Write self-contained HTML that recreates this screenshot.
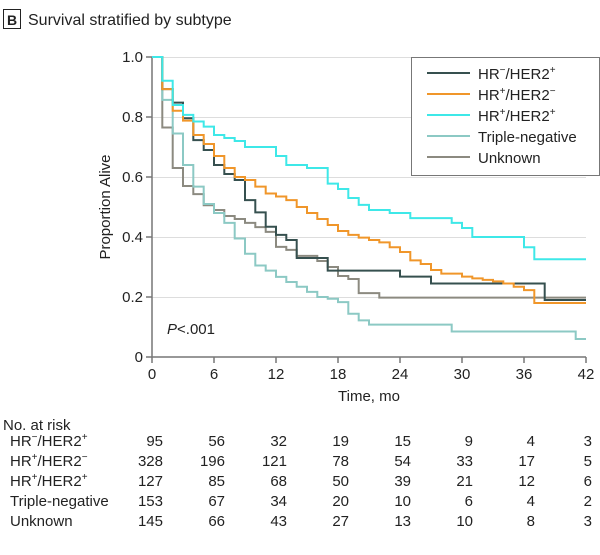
<!DOCTYPE html>
<html><head><meta charset="utf-8"><style>
body{margin:0;background:#fff;}
svg text{font-family:"Liberation Sans Narrow","Liberation Sans",sans-serif;fill:#222;}
</style></head><body>
<svg id="s" width="600" height="550" xmlns="http://www.w3.org/2000/svg">
<rect x="3.5" y="9.5" width="17" height="19" fill="none" stroke="#222" stroke-width="1"/>
<text x="12" y="25" font-size="14" font-weight="bold" text-anchor="middle">B</text>
<text x="28" y="25" font-size="16">Survival stratified by subtype</text>
<g stroke="#ddd" stroke-width="1">
<line x1="152" x2="586" y1="57.5" y2="57.5"/><line x1="152" x2="586" y1="117.5" y2="117.5"/>
<line x1="152" x2="586" y1="177.5" y2="177.5"/><line x1="152" x2="586" y1="237.5" y2="237.5"/>
<line x1="152" x2="586" y1="297.5" y2="297.5"/></g>
<g stroke="#777" stroke-width="1.5"><line x1="152" y1="57" x2="152" y2="357"/><line x1="152" y1="357" x2="586" y2="357"/>
<line x1="146" x2="152" y1="57" y2="57"/><line x1="146" x2="152" y1="117" y2="117"/><line x1="146" x2="152" y1="177" y2="177"/><line x1="146" x2="152" y1="237" y2="237"/><line x1="146" x2="152" y1="297" y2="297"/><line x1="146" x2="152" y1="357" y2="357"/>
<line x1="152" x2="152" y1="357" y2="363"/><line x1="214" x2="214" y1="357" y2="363"/><line x1="276" x2="276" y1="357" y2="363"/><line x1="338" x2="338" y1="357" y2="363"/><line x1="400" x2="400" y1="357" y2="363"/><line x1="462" x2="462" y1="357" y2="363"/><line x1="524" x2="524" y1="357" y2="363"/><line x1="586" x2="586" y1="357" y2="363"/></g>
<g font-size="15" text-anchor="end"><text x="143" y="62">1.0</text><text x="143" y="122">0.8</text><text x="143" y="182">0.6</text><text x="143" y="242">0.4</text><text x="143" y="302">0.2</text><text x="143" y="362">0</text></g>
<g font-size="15" text-anchor="middle"><text x="152" y="379">0</text><text x="214" y="379">6</text><text x="276" y="379">12</text><text x="338" y="379">18</text><text x="400" y="379">24</text><text x="462" y="379">30</text><text x="524" y="379">36</text><text x="586" y="379">42</text></g>
<text x="369" y="401" font-size="15" text-anchor="middle">Time, mo</text>
<text transform="translate(110,207) rotate(-90)" font-size="15" text-anchor="middle">Proportion Alive</text>
<text x="167" y="334" font-size="15"><tspan font-style="italic">P</tspan>&lt;.001</text>
<g id="curves" fill="none" stroke-width="2"></g>
<rect x="411.5" y="57.5" width="188" height="118" fill="#fff" stroke="#777"/>
<g stroke-width="2"><line x1="427" x2="470" y1="73" y2="73" stroke="#36504f"/><line x1="427" x2="470" y1="94" y2="94" stroke="#f0962a"/><line x1="427" x2="470" y1="115" y2="115" stroke="#3ee8e8"/><line x1="427" x2="470" y1="136" y2="136" stroke="#8cc9c4"/><line x1="427" x2="470" y1="157" y2="157" stroke="#8c8a80"/></g>
<g font-size="15"><text x="478" y="79">HR<tspan dy="-6" font-size="10">−</tspan><tspan dy="6">/HER2</tspan><tspan dy="-6" font-size="10">+</tspan></text>
<text x="478" y="100">HR<tspan dy="-6" font-size="10">+</tspan><tspan dy="6">/HER2</tspan><tspan dy="-6" font-size="10">−</tspan></text>
<text x="478" y="121">HR<tspan dy="-6" font-size="10">+</tspan><tspan dy="6">/HER2</tspan><tspan dy="-6" font-size="10">+</tspan></text>
<text x="478" y="142">Triple-negative</text><text x="478" y="163">Unknown</text></g>
<g font-size="15"><text x="3" y="430">No. at risk</text>
<text x="10" y="446">HR<tspan dy="-6" font-size="10">−</tspan><tspan dy="6">/HER2</tspan><tspan dy="-6" font-size="10">+</tspan></text>
<text x="10" y="466">HR<tspan dy="-6" font-size="10">+</tspan><tspan dy="6">/HER2</tspan><tspan dy="-6" font-size="10">−</tspan></text>
<text x="10" y="486">HR<tspan dy="-6" font-size="10">+</tspan><tspan dy="6">/HER2</tspan><tspan dy="-6" font-size="10">+</tspan></text>
<text x="10" y="506">Triple-negative</text><text x="10" y="526">Unknown</text></g>
<g id="risk" font-size="15" text-anchor="end"></g>
</svg>
<script>
var X=m=>152+m*434/42,Y=v=>357-v*300;
function path(pts,col){var d="M"+X(0)+","+Y(1);for(var i=0;i<pts.length;i++){var t=pts[i][0],v=pts[i][1];d+=" H"+X(t).toFixed(1)+" V"+Y(v).toFixed(1);}d+=" H"+X(42);return '<path d="'+d+'" stroke="'+col+'"/>';}
var S={
unk:[[1,.765],[2,.63],[3,.57],[4,.543],[5,.506],[6,.49],[7,.47],[8,.46],[9,.447],[10,.433],[11,.417],[12,.367],[13,.357],[14,.337],[16,.32],[17,.3],[18,.27],[19,.26],[20,.213],[22,.198]],
tn:[[1,.857],[2,.745],[3,.64],[4,.568],[5,.51],[6,.48],[7,.447],[8,.395],[9,.344],[10,.305],[11,.288],[12,.267],[13,.25],[14,.234],[15,.217],[16,.2],[17,.194],[18,.183],[19,.144],[20,.122],[21,.108],[29,.085],[41,.06]],
dk:[[1,.893],[2,.848],[3,.796],[4,.723],[5,.69],[6,.64],[7,.61],[8,.59],[9,.523],[10,.482],[11,.434],[12,.407],[13,.39],[14,.33],[16.5,.33],[17,.288],[24,.268],[27,.245],[38,.19]],
or:[[1,.893],[2,.821],[3,.788],[4,.74],[5,.71],[6,.67],[7,.63],[8,.6],[9,.59],[10,.568],[11,.545],[12,.535],[13,.523],[14,.5],[15,.48],[16,.46],[17,.44],[18,.42],[19,.407],[20,.398],[21,.39],[22,.382],[23,.366],[24,.35],[25,.322],[26,.31],[27,.29],[28,.278],[30,.268],[31,.262],[32,.257],[33,.252],[34,.245],[35,.234],[36,.223],[37,.18]],
cy:[[1,.921],[2,.84],[3,.807],[4,.785],[5,.768],[6,.74],[7,.73],[8,.72],[9,.7],[12,.67],[13,.64],[15,.63],[17,.578],[18,.56],[19,.53],[20,.507],[21,.49],[23,.48],[25,.463],[29,.447],[30,.43],[31,.4],[36,.366],[37,.326]]};
document.getElementById("curves").innerHTML=path(S.unk,"#8c8a80")+path(S.tn,"#8cc9c4")+path(S.dk,"#36504f")+path(S.or,"#f0962a")+path(S.cy,"#3ee8e8");
var R=[[95,56,32,19,15,9,4,3],[328,196,121,78,54,33,17,5],[127,85,68,50,39,21,12,6],[153,67,34,20,10,6,4,2],[145,66,43,27,13,10,8,3]];
var h="";R.forEach(function(r,i){r.forEach(function(n,j){var x=j==7?592:163+j*62;h+='<text x="'+x+'" y="'+(446+i*20)+'">'+n+'</text>';});});
document.getElementById("risk").innerHTML=h;
</script>
</body></html>
